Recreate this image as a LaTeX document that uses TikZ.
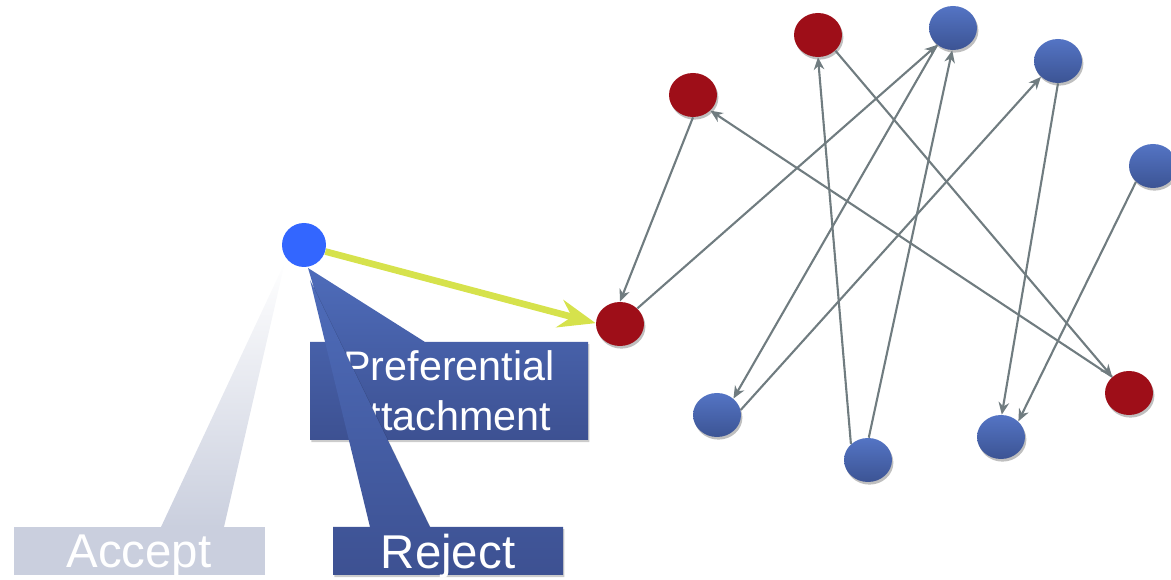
\documentclass[tikz,border=0pt]{standalone}
\usepackage{fontspec}
\setmainfont{Liberation Sans}
\usetikzlibrary{shapes.geometric,arrows.meta,shadows}
\definecolor{nodeblueT}{RGB}{84,116,196}
\definecolor{nodeblueB}{RGB}{60,84,148}
\definecolor{nodered}{RGB}{158,14,24}
\definecolor{srcblue}{RGB}{51,102,255}
\definecolor{edgegray}{RGB}{112,124,128}
\definecolor{yel}{RGB}{214,226,76}
\definecolor{calloutT}{RGB}{78,108,186}
\definecolor{calloutB}{RGB}{61,81,146}
\definecolor{acceptgray}{RGB}{202,207,222}
\begin{document}
\begin{tikzpicture}[x=0.02cm,y=-0.02cm,
  netnode/.style={ellipse, minimum width=0.96cm, minimum height=0.88cm, inner sep=0pt,
    drop shadow={shadow xshift=0.8pt, shadow yshift=-1.5pt, opacity=0.25, fill=black}},
  rednode/.style={netnode, fill=nodered},
  bluenode/.style={netnode, top color=nodeblueT, bottom color=nodeblueB},
  srcnode/.style={circle, minimum size=0.88cm, inner sep=0pt, fill=srcblue},
  edge/.style={draw=edgegray, line width=1.2pt, -{Stealth[length=7pt,width=6pt,inset=2.2pt]}},
  yarrow/.style={draw=yel, line width=3.8pt, -{Stealth[length=21pt,width=16pt,inset=7pt]}},
  callout/.style={top color=calloutT, bottom color=calloutB,
    drop shadow={shadow xshift=0.8pt, shadow yshift=-1.2pt, opacity=0.2, fill=black}},
  boxtext/.style={text=white, align=center, inner sep=0pt},
]
\useasboundingbox (0,0) rectangle (1171,580);

% network nodes
\node[rednode]  (R1) at (620,324) {};
\node[rednode]  (R2) at (693,95)  {};
\node[rednode]  (R3) at (818,35)  {};
\node[rednode]  (R4) at (1129,393) {};
\node[bluenode] (B1) at (953,28)  {};
\node[bluenode] (B2) at (1058,61) {};
\node[bluenode] (B3) at (1153,166) {};
\node[bluenode] (B4) at (717,415) {};
\node[bluenode] (B5) at (868,460) {};
\node[bluenode] (B6) at (1001,437) {};

% network edges
\draw[edge] (R2.270) -- (R1.90);
\draw[edge] (R1.42) -- (B1.227);
\draw[edge] (B1.227) -- (B4.45);
\draw[edge] (B4.12) -- (B2.223);
\draw[edge] (B5.137) -- (R3.270);
\draw[edge] (B5.88) -- (B1.268);
\draw[edge] (R3.318) -- (R4.136);
\draw[edge] (R4.136) -- (R2.318);
\draw[edge] (B2.270) -- (B6.88);
\draw[edge] (B3.223) -- (B6.42);

% Accept callout
\shade[top color=white, middle color=acceptgray, bottom color=acceptgray]
  (285,262) -- (161,527) -- (224,527) -- cycle;
\fill[acceptgray] (14,527) rectangle (265,575);
\node[boxtext, text depth=0pt, font=\fontsize{27}{32}\selectfont] (acc) at (139,551) {Accept};

% Preferential attachment callout
\shade[callout] (308,268) -- (330,342) -- (425,342) -- cycle (310,342) rectangle (588,440);
\node[boxtext, font=\fontsize{23.5}{28.3}\selectfont] (pref) at (449,391) {Preferential\\attachment};

% Reject callout
\shade[callout] (310,280) -- (370,527) -- (430,527) -- cycle (333,527) rectangle (563,575);
\node[boxtext, text depth=0pt, font=\fontsize{27}{32}\selectfont] (rej) at (448,551) {Reject};

% source node and yellow arrow
\node[srcnode] (S) at (304,245) {};
\draw[yarrow] (S.343) -- (R1.178);
\end{tikzpicture}
\end{document}
